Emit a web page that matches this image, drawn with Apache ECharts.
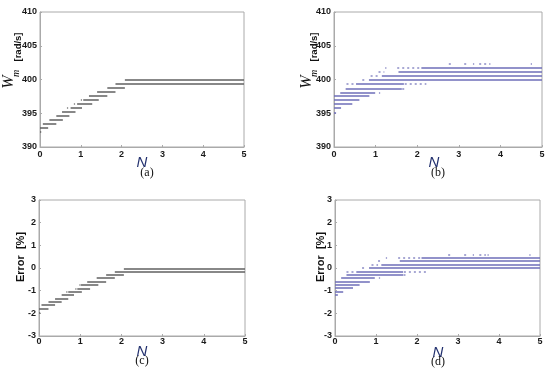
<!DOCTYPE html>
<html><head><meta charset="utf-8">
<script src="https://cdn.jsdelivr.net/npm/echarts@6/dist/echarts.min.js"></script>
<style>html,body{margin:0;padding:0;background:#fff}#c{width:550px;height:380px}</style>
</head><body><div id="c"></div>
<script>
// ---------- data ----------
const xTicks = [0, 1, 2, 3, 4, 5];
const wTicks = [390, 395, 400, 405, 410];
const eTicks = [-3, -2, -1, 0, 1, 2, 3];

// (a) speed W_m [rad/s], solid steps
const aLevels = [392.2, 392.8, 393.4, 394.0, 394.6, 395.2, 395.8, 396.4, 397.0, 397.6, 398.2, 398.8, 399.4, 400.0];
const aStart  = [0.00, 0.00, 0.07, 0.23, 0.40, 0.54, 0.75, 0.91, 1.06, 1.20, 1.40, 1.65, 1.85, 2.08];
const aEnd    = [0.03, 0.20, 0.40, 0.56, 0.72, 0.87, 1.03, 1.28, 1.44, 1.65, 1.85, 2.08, 5.00, 5.00];
const aDotLevels = [395.8, 396.4, 397.0];
const aDotStart  = [0.66, 0.83, 1.00];
const aDotEnd    = [0.69, 0.86, 1.03];

// (b) speed W_m [rad/s]
const bLevels = [395.1, 395.75, 396.35, 396.95, 397.55, 398.1, 398.7, 399.35, 399.95, 400.6, 401.2, 401.75];
const bStart  = [0.00, 0.00, 0.00, 0.00, 0.00, 0.15, 0.28, 0.53, 0.84, 1.15, 1.55, 2.10];
const bEnd    = [0.05, 0.17, 0.44, 0.61, 0.85, 0.99, 1.63, 1.68, 5.00, 5.00, 5.00, 5.00];
const bDotLevels = [399.35, 399.35, 398.7, 398.1, 399.95, 400.6, 401.2, 401.75, 401.75, 402.3, 402.3, 402.3, 402.3, 402.3, 402.3];
const bDotStart  = [0.30, 1.70, 1.64, 1.08, 0.68, 0.88, 1.07, 1.23, 1.52, 2.76, 3.13, 3.34, 3.49, 3.73, 4.73];
const bDotEnd    = [0.48, 2.22, 1.72, 1.11, 0.77, 1.08, 1.21, 1.26, 2.10, 2.84, 3.24, 3.37, 3.66, 3.76, 4.76];

// (c) error [%]
const cLevels = [-1.97, -1.79, -1.64, -1.49, -1.34, -1.19, -1.04, -0.90, -0.75, -0.60, -0.45, -0.30, -0.16, -0.02];
const cStart  = [0.00, 0.00, 0.06, 0.23, 0.39, 0.55, 0.71, 0.93, 1.02, 1.17, 1.40, 1.63, 1.84, 2.06];
const cEnd    = [0.03, 0.23, 0.39, 0.55, 0.71, 0.85, 1.04, 1.24, 1.44, 1.63, 1.84, 2.06, 5.00, 5.00];
const cDotLevels = [-1.04, -0.90, -0.75];
const cDotStart  = [0.66, 0.88, 0.98];
const cDotEnd    = [0.69, 0.91, 1.01];

// (d) error [%]
const dLevels = [-1.18, -1.03, -0.88, -0.74, -0.59, -0.44, -0.29, -0.15, 0.00, 0.15, 0.31, 0.46];
const dStart  = [0.00, 0.00, 0.00, 0.00, 0.00, 0.15, 0.28, 0.52, 0.83, 1.13, 1.58, 2.11];
const dEnd    = [0.07, 0.20, 0.44, 0.60, 0.85, 0.97, 1.66, 1.66, 5.00, 5.00, 5.00, 5.00];
const dDotLevels = [-0.15, -0.15, -0.29, -0.44, 0.00, 0.15, 0.31, 0.46, 0.46, 0.59, 0.59, 0.59, 0.59, 0.59, 0.59];
const dDotStart  = [0.28, 1.68, 1.67, 1.07, 0.66, 0.89, 1.05, 1.24, 1.54, 2.76, 3.15, 3.36, 3.52, 3.72, 4.74];
const dDotEnd    = [0.50, 2.23, 1.72, 1.10, 0.77, 1.05, 1.17, 1.27, 2.11, 2.84, 3.25, 3.39, 3.68, 3.75, 4.77];

// ---------- chart ----------
function segs(levels, starts, ends) {
  return levels.map((y, i) => ({ coords: [[starts[i], y], [ends[i], y]] }));
}
const grayLine = '#606060';
const blueLine = '#6e6eb8';

const grids = [
  { left: 40, top: 12, width: 204, height: 135 },
  { left: 334, top: 12, width: 208, height: 135 },
  { left: 39, top: 200, width: 206, height: 136 },
  { left: 335, top: 200, width: 205, height: 136 }
].map(g => Object.assign({ show: true, borderColor: '#aaaaaa', borderWidth: 1, backgroundColor: '#fff' }, g));

const labelStyle = { color: '#1a1a1a', fontFamily: 'Liberation Sans, Arial', fontWeight: 'bold', fontSize: 9 };

const xAxes = grids.map((g, i) => ({
  type: 'value', gridIndex: i, min: xTicks[0], max: xTicks[xTicks.length - 1], interval: 1,
  axisLine: { show: true, onZero: false, lineStyle: { color: '#aaaaaa', width: 1 } },
  axisTick: { show: true, inside: true, length: 2, lineStyle: { color: '#aaaaaa' } },
  splitLine: { show: false },
  axisLabel: Object.assign({ margin: i < 2 ? 3 : 1 }, labelStyle)
}));
const yAxes = grids.map((g, i) => {
  const t = i < 2 ? wTicks : eTicks;
  return {
    type: 'value', gridIndex: i, min: t[0], max: t[t.length - 1], interval: t[1] - t[0],
    axisLine: { show: true, onZero: false, lineStyle: { color: '#aaaaaa', width: 1 } },
    axisTick: { show: true, inside: true, length: 2, lineStyle: { color: '#aaaaaa' } },
    splitLine: { show: false },
    axisLabel: Object.assign({ margin: 3 }, labelStyle)
  };
});

function linesSeries(idx, data, color, dotted) {
  return {
    type: 'lines', coordinateSystem: 'cartesian2d', xAxisIndex: idx, yAxisIndex: idx,
    polyline: false, silent: true, animation: false,
    lineStyle: { color: color, width: 1.5, opacity: dotted ? 0.8 : 1, type: dotted ? [2, 3] : 'solid' },
    data: data
  };
}

const series = [
  linesSeries(0, segs(aLevels, aStart, aEnd), grayLine, false),
  linesSeries(0, segs(aDotLevels, aDotStart, aDotEnd), grayLine, true),
  linesSeries(1, segs(bLevels, bStart, bEnd), blueLine, false),
  linesSeries(1, segs(bDotLevels, bDotStart, bDotEnd), blueLine, true),
  linesSeries(2, segs(cLevels, cStart, cEnd), grayLine, false),
  linesSeries(2, segs(cDotLevels, cDotStart, cDotEnd), grayLine, true),
  linesSeries(3, segs(dLevels, dStart, dEnd), blueLine, false),
  linesSeries(3, segs(dDotLevels, dDotStart, dDotEnd), blueLine, true)
];

const R = Math.PI / 2;
function txt(x, y, text, style, rot) {
  return {
    type: 'text', x: x, y: y, rotation: rot || 0, silent: true,
    style: Object.assign({ text: text, textAlign: 'center', textVerticalAlign: 'middle', fill: '#111' }, style)
  };
}
const serifIt = { fontFamily: 'Liberation Serif, Times New Roman', fontStyle: 'italic' };
const sansB = { fontFamily: 'Liberation Sans, Arial', fontWeight: 'bold' };
const nStyle = { fontFamily: 'Liberation Sans, Arial', fontStyle: 'italic', fontSize: 15, fill: '#22306e' };
const capStyle = { fontFamily: 'Liberation Serif, Times New Roman', fontSize: 12, fill: '#111' };

const graphic = [
  // (a)
  txt(9, 82, 'W', Object.assign({ fontSize: 16 }, serifIt), R),
  txt(16, 73.5, 'm', Object.assign({ fontSize: 10 }, serifIt), R),
  txt(18.5, 47, '[rad/s]', Object.assign({ fontSize: 9.5 }, sansB), R),
  txt(142, 163, 'N', nStyle),
  txt(147, 173, '(a)', capStyle),
  // (b)
  txt(307, 82, 'W', Object.assign({ fontSize: 16 }, serifIt), R),
  txt(314, 73.5, 'm', Object.assign({ fontSize: 10 }, serifIt), R),
  txt(314, 47, '[rad/s]', Object.assign({ fontSize: 9.5 }, sansB), R),
  txt(434, 163, 'N', nStyle),
  txt(438, 173, '(b)', capStyle),
  // (c)
  txt(21, 257, 'Error  [%]', Object.assign({ fontSize: 11 }, sansB), R),
  txt(142, 352, 'N', nStyle),
  txt(142, 361, '(c)', capStyle),
  // (d)
  txt(321, 257, 'Error  [%]', Object.assign({ fontSize: 11 }, sansB), R),
  txt(438, 353, 'N', nStyle),
  txt(438, 362, '(d)', capStyle)
];

const chart = echarts.init(document.getElementById('c'), null, { renderer: 'canvas' });
chart.setOption({
  animation: false,
  backgroundColor: '#ffffff',
  grid: grids, xAxis: xAxes, yAxis: yAxes, series: series, graphic: graphic
});
</script>
</body></html>
